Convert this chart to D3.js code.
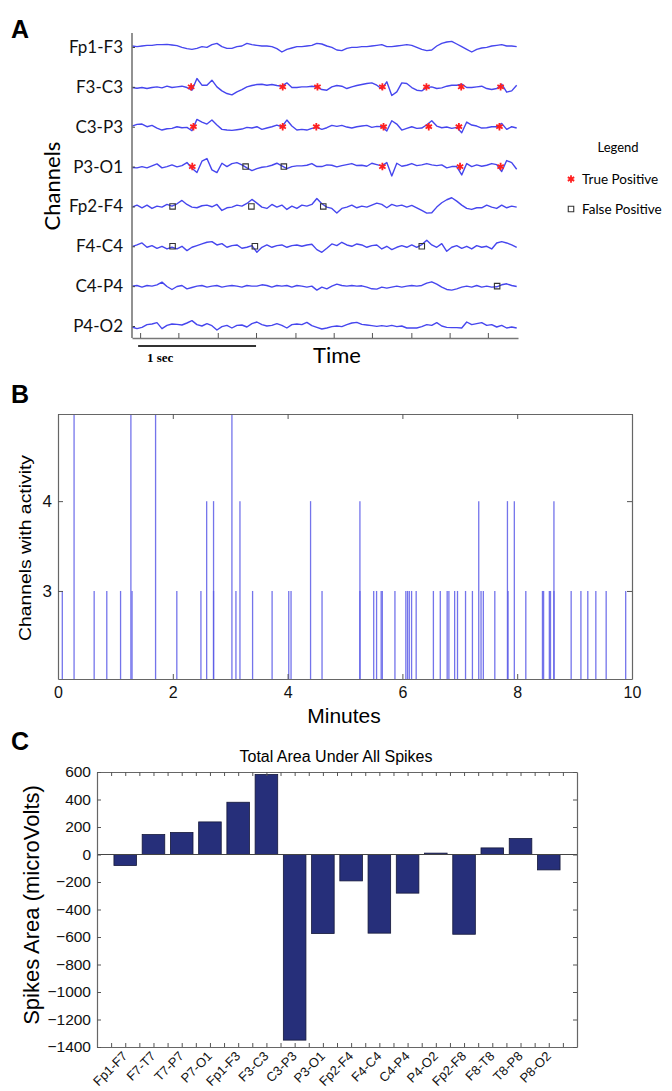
<!DOCTYPE html>
<html><head><meta charset="utf-8">
<script src="https://cdn.jsdelivr.net/npm/d3@7"></script>
<style>html,body{margin:0;padding:0;background:#fff;} svg{display:block;}</style>
</head><body><svg id="c" width="672" height="1091"></svg>
<script>
// ---------------- Panel A data ----------------
const channels = ["Fp1-F3","F3-C3","C3-P3","P3-O1","Fp2-F4","F4-C4","C4-P4","P4-O2"];
const sampleInterval = 0.0431; // seconds per sample
const traceFp1F3 = [3,1,3,5,5,7,7,8,6,4,-1,-5,-7,-4,1,-1,7,11,1,-4,-4,1,3,11,7,5,3,3,1,-5,-15,-7,-3,1,1,3,5,11,9,3,-1,-9,-11,-4,-1,-1,1,1,3,5,7,1,1,3,5,7,5,-1,-7,-11,-9,3,11,15,17,9,1,-7,-15,-7,-3,-1,3,5,7,3,3,1];
const traceF3C3 = [-2,-4,-2,-5,-2,0,-3,2,-2,0,2,-2,-10,25,5,5,20,0,-12,-20,-24,-15,-8,0,4,7,8,5,7,4,2,12,-2,-2,0,0,2,0,-8,-10,0,4,2,-5,0,4,7,10,12,5,-6,15,-26,-15,12,10,-2,-10,-12,-2,0,-5,-3,2,5,5,8,-2,-2,0,2,-5,-8,-5,8,-16,-12,5];
const traceC3P3 = [2,7,8,0,4,-4,-10,-6,-5,0,-3,-2,-12,22,14,8,20,5,-8,-10,-11,-9,-7,-2,-4,0,-8,-4,0,5,0,20,2,-10,-8,-10,-5,-2,-8,-3,4,1,4,-1,-4,0,2,4,-2,1,0,-13,18,8,-10,-5,0,-5,-4,6,18,2,-3,-1,-5,-2,-18,14,5,2,-4,-3,0,0,10,-8,0,-4];
const traceP3O1 = [-3,-4,0,-4,2,8,-4,0,5,-1,3,12,-5,-18,16,24,-10,-18,10,0,9,12,5,-4,-12,-6,-2,0,4,10,2,-6,0,2,2,4,9,0,0,5,4,-1,3,6,9,3,4,1,10,6,2,12,-28,10,1,4,9,3,5,9,5,3,5,-4,0,0,-25,9,0,5,1,4,9,6,-15,18,12,-8];
const traceFp2F4 = [-2,4,-4,4,-6,1,-2,6,1,8,18,6,-2,-4,2,4,-1,6,-12,-4,-2,4,1,9,21,10,-2,-6,6,-2,4,-9,1,-6,4,1,6,24,8,-2,-6,-20,-6,-2,4,-4,1,-2,4,10,6,-4,6,1,4,-2,3,-4,-12,-20,-19,-2,11,20,26,16,4,-6,-9,-4,-4,4,-2,-6,4,-4,1,-2];
const traceF4C4 = [-1,4,10,-3,2,-6,0,-8,-3,-8,0,-13,-3,2,7,12,14,4,8,-3,2,4,-6,-3,2,-18,-3,4,-3,2,4,-3,2,4,0,4,6,-10,-18,-6,7,2,12,4,0,7,4,-3,2,4,-8,0,-10,-3,2,-3,4,-3,5,18,4,-3,8,-15,-3,2,-6,0,-8,2,-3,0,-8,10,14,10,4,-3];
const traceC4P4 = [0,2,-3,2,0,4,12,-1,-10,-1,2,-8,-4,0,2,-3,0,2,-3,0,2,0,-3,2,0,0,4,2,-3,2,0,2,-3,2,0,-3,0,-12,-3,-8,0,6,2,0,2,0,1,-3,-8,-9,-3,-6,-3,0,-3,0,2,0,2,9,13,6,-3,-10,-12,-8,-3,0,-3,2,-3,0,-3,-2,4,7,2,-1];
const traceP4O2 = [-3,-8,-4,4,6,10,-8,2,6,5,3,9,16,4,0,7,1,-12,-2,2,-6,2,3,-3,7,12,4,0,2,7,2,-6,4,6,4,11,1,-4,-9,-6,-2,0,-2,4,9,11,5,3,1,-1,1,-1,2,-2,0,-6,-6,-6,-2,4,2,10,0,-4,-5,-5,-6,12,4,7,10,2,4,-3,2,-6,-3,-6];
// detection times (seconds)
const tpF3C3 = [0.51,1.30,1.60,2.16,2.54,2.84,3.18];
const tpC3P3 = [0.53,1.30,1.59,2.17,2.56,2.82,3.17];
const tpP3O1 = [0.52,2.16,2.83,3.18];
const fpP3O1 = [0.98,1.31];
const fpFp2F4 = [0.35,1.03,1.65];
const fpF4C4 = [0.35,1.06,2.50];
const fpC4P4 = [3.15];
const timeTicks = [0.07,0.40,0.74,1.07,1.41,1.74,2.07,2.41,2.74,3.07];

// ---------------- Panel B data ----------------
const eventMinutes = [0.28,1.27,1.70,3.03, 2.59,2.71,3.17,4.40,5.26,7.33,7.83,7.95,8.64,
  0.075,0.63,0.85,1.09,1.29,2.07,2.49,2.71,3.10,3.39,3.73,4.02,4.06,4.60,5.26,5.50,5.55,5.63,5.65,5.87,6.06,6.09,6.12,6.16,6.24,6.54,6.66,6.78,6.81,6.91,6.96,7.10,7.22,7.37,7.41,7.61,7.84,8.15,8.44,8.46,8.56,8.58,8.64,8.94,9.11,9.23,9.37,9.55,9.89];
const eventChannels = [5,5,5,5, 4,4,4,4,4,4,4,4,4,
  3,3,3,3,3,3,3,3,3,3,3,3,3,3,3,3,3,3,3,3,3,3,3,3,3,3,3,3,3,3,3,3,3,3,3,3,3,3,3,3,3,3,3,3,3,3,3,3,3];
const minuteTicks = [0,2,4,6,8,10];
const activityTicks = [3,4];

// ---------------- Panel C data ----------------
const montage = ["Fp1-F7","F7-T7","T7-P7","P7-O1","Fp1-F3","F3-C3","C3-P3","P3-O1","Fp2-F4","F4-C4","C4-P4","P4-O2","Fp2-F8","F8-T8","T8-P8","P8-O2"];
const spikeArea = [-80,145,160,237,380,582,-1350,-575,-192,-572,-281,10,-580,48,116,-112];
const areaTicks = [600,400,200,0,-200,-400,-600,-800,-1000,-1200,-1400];

// ================= drawing =================
const svg = d3.select("#c");
const SANS = "'Liberation Sans', Arial, sans-serif";
const HUM = "Lato, 'Open Sans', sans-serif";

function panelLetter(t, x, y){
  svg.append("text").attr("x",x).attr("y",y).text(t)
    .style("font-family",SANS).style("font-weight","bold").style("font-size","25px").attr("fill","#000");
}
panelLetter("A",11,38); panelLetter("B",11,403); panelLetter("C",11,750);

// ---------- Panel A ----------
const xA = d3.scaleLinear().domain([0,3.33]).range([132,518]);
const yA = d3.scalePoint().domain(channels).range([47,326]);
const amp = d3.scaleLinear().domain([-30,30]).range([10,-10]);
const traces = [traceFp1F3,traceF3C3,traceC3P3,traceP3O1,traceFp2F4,traceF4C4,traceC4P4,traceP4O2];
const gA = svg.append("g");
traces.forEach((tr,ci)=>{
  const base = yA(channels[ci]);
  const pts = tr.map(v=>({v, base}));
  gA.append("path").datum(pts).attr("fill","none").attr("stroke","#4646ee")
    .attr("stroke-width",1.4).attr("stroke-linejoin","round")
    .attr("d", d3.line().x((d,i)=>xA(i*sampleInterval)).y(d=>d.base+amp(d.v)));
});
// axes
const axL = gA.append("g").attr("transform","translate(132,0)")
  .call(d3.axisLeft(yA).tickSize(-3).tickPadding(9).tickSizeOuter(0));
axL.select(".domain").remove();
axL.selectAll(".tick line").attr("stroke","#444");
axL.selectAll("text").style("font-family",HUM).style("font-size","17px").attr("fill","#111");
gA.append("line").attr("x1",132).attr("x2",132).attr("y1",33).attr("y2",338).attr("stroke","#777").attr("stroke-width",1.6);
const axB = gA.append("g").attr("transform","translate(0,338)")
  .call(d3.axisBottom(xA).tickValues(timeTicks).tickSize(-5).tickFormat("").tickSizeOuter(0));
axB.select(".domain").attr("stroke","#777").attr("stroke-width",1.6);
axB.selectAll(".tick line").attr("stroke","#555");
// scale bar
gA.append("line").attr("x1",xA(timeTicks[0])-2).attr("x2",xA(timeTicks[3])).attr("y1",346).attr("y2",346)
  .attr("stroke","#333").attr("stroke-width",1.8);
gA.append("text").attr("x",147).attr("y",362).text("1 sec")
  .style("font-family","'Liberation Serif', 'Times New Roman', serif").style("font-weight","bold").style("font-size","13px");
gA.append("text").attr("x",337).attr("y",363).attr("text-anchor","middle").text("Time")
  .style("font-family",HUM).style("font-size","22px");
gA.append("text").attr("transform","translate(60,186) rotate(-90)").attr("text-anchor","middle").text("Channels")
  .style("font-family",HUM).style("font-size","22px");
// markers
const star = d3.symbol(d3.symbolAsterisk).size(38);
const sq = d3.symbol(d3.symbolSquare).size(30);
[["F3-C3",tpF3C3],["C3-P3",tpC3P3],["P3-O1",tpP3O1]].forEach(([ch,arr])=>{
  arr.forEach(t=>{
    gA.append("path").attr("d",star()).attr("transform",`translate(${xA(t)},${yA(ch)})`)
      .attr("stroke","#ff2020").attr("stroke-width",1.8).attr("fill","none");
  });
});
[["P3-O1",fpP3O1],["Fp2-F4",fpFp2F4],["F4-C4",fpF4C4],["C4-P4",fpC4P4]].forEach(([ch,arr])=>{
  arr.forEach(t=>{
    gA.append("path").attr("d",sq()).attr("transform",`translate(${xA(t)},${yA(ch)})`)
      .attr("stroke","#333").attr("stroke-width",1.1).attr("fill","none");
  });
});
// legend
gA.append("text").attr("x",618).attr("y",152).attr("text-anchor","middle").text("Legend")
  .style("font-family",HUM).style("font-size","13px");
gA.append("path").attr("d",star()).attr("transform","translate(571,179)").attr("stroke","#ff2020").attr("stroke-width",1.8).attr("fill","none");
gA.append("text").attr("x",582).attr("y",184).text("True Positive").style("font-family",HUM).style("font-size","13.5px");
gA.append("path").attr("d",sq()).attr("transform","translate(571,209)").attr("stroke","#333").attr("stroke-width",1.1).attr("fill","none");
gA.append("text").attr("x",582).attr("y",214).text("False Positive").style("font-family",HUM).style("font-size","13.5px");

// ---------- Panel B ----------
const xB = d3.scaleLinear().domain([0,10]).range([58,632]);
const yB = d3.scaleLinear().domain([2.02,4.97]).range([679,414]);
const gB = svg.append("g");
svg.append("defs").append("clipPath").attr("id","clipB").append("rect")
  .attr("x",58).attr("y",414).attr("width",574).attr("height",265);
const events = eventMinutes.map((m,i)=>({m, c:eventChannels[i]}));
gB.append("g").attr("clip-path","url(#clipB)").selectAll("line").data(events).join("line")
  .attr("x1",d=>xB(d.m)).attr("x2",d=>xB(d.m)).attr("y1",yB(2.02)).attr("y2",d=>yB(d.c))
  .attr("stroke","#5c5ce8").attr("stroke-opacity",0.85).attr("stroke-width",1.3);
function styleAxis(g, fs){
  g.select(".domain").attr("stroke","#666").attr("stroke-width",1.2);
  g.selectAll(".tick line").attr("stroke","#555");
  g.selectAll("text").style("font-family",SANS).style("font-size",fs).attr("fill","#111");
}
const intFmt = d3.format("d");
styleAxis(gB.append("g").attr("transform","translate(0,679)")
  .call(d3.axisBottom(xB).tickValues(minuteTicks).tickSize(-5).tickSizeOuter(0).tickPadding(8).tickFormat(intFmt)),"16px");
styleAxis(gB.append("g").attr("transform","translate(0,414)")
  .call(d3.axisTop(xB).tickValues(minuteTicks).tickSize(-5).tickSizeOuter(0).tickFormat("")),"16px");
styleAxis(gB.append("g").attr("transform","translate(58,0)")
  .call(d3.axisLeft(yB).tickValues(activityTicks).tickSize(-5).tickSizeOuter(0).tickPadding(6).tickFormat(intFmt)),"17px");
styleAxis(gB.append("g").attr("transform","translate(632,0)")
  .call(d3.axisRight(yB).tickValues(activityTicks).tickSize(-5).tickSizeOuter(0).tickFormat("")),"16px");
gB.append("text").attr("x",344).attr("y",723).attr("text-anchor","middle").text("Minutes")
  .style("font-family",SANS).style("font-size","21px");
gB.append("text").attr("transform","translate(31,548) rotate(-90)").attr("text-anchor","middle").text("Channels with activity")
  .style("font-family",SANS).style("font-size","17px").attr("textLength",186).attr("lengthAdjust","spacingAndGlyphs");

// ---------- Panel C ----------
const xC = d3.scaleLinear().domain([0,17]).range([97,577]);
const yC = d3.scaleLinear().domain([-1400,600]).range([1047,772]);
const gC = svg.append("g");
const bars = montage.map((m,i)=>({m, v:spikeArea[i], i:i+1}));
gC.selectAll("rect.bar").data(bars).join("rect").attr("class","bar")
  .attr("x",d=>xC(d.i-0.4)).attr("width",d=>xC(d.i+0.4)-xC(d.i-0.4))
  .attr("y",d=>yC(Math.max(0,d.v))).attr("height",d=>Math.abs(yC(d.v)-yC(0)))
  .attr("fill","#262f7a").attr("stroke","#15183a").attr("stroke-width",0.8);
gC.append("line").attr("x1",97).attr("x2",577).attr("y1",yC(0)).attr("y2",yC(0)).attr("stroke","#444").attr("stroke-width",1);
const halfTicks = d3.range(1,34).map(k=>k/2);
styleAxis(gC.append("g").attr("transform","translate(0,1047)")
  .call(d3.axisBottom(xC).tickValues(halfTicks).tickSize(-4).tickSizeOuter(0).tickFormat("")),"14px");
styleAxis(gC.append("g").attr("transform","translate(0,772)")
  .call(d3.axisTop(xC).tickValues(halfTicks).tickSize(-4).tickSizeOuter(0).tickFormat("")),"14px");
styleAxis(gC.append("g").attr("transform","translate(97,0)")
  .call(d3.axisLeft(yC).tickValues(areaTicks).tickSize(-4).tickSizeOuter(0).tickPadding(6).tickFormat(intFmt)),"15.5px");
styleAxis(gC.append("g").attr("transform","translate(577,0)")
  .call(d3.axisRight(yC).tickValues(areaTicks).tickSize(-4).tickSizeOuter(0).tickFormat("")),"15px");
gC.selectAll("text.xl").data(bars).join("text").attr("class","xl")
  .attr("transform",d=>`translate(${xC(d.i)+3},1057) rotate(-45)`).attr("text-anchor","end").text(d=>d.m)
  .style("font-family",SANS).style("font-size","13px").attr("fill","#111");
gC.append("text").attr("x",336).attr("y",762).attr("text-anchor","middle").text("Total Area Under All Spikes")
  .style("font-family",SANS).style("font-size","16px");
gC.append("text").attr("transform","translate(39,905) rotate(-90)").attr("text-anchor","middle").text("Spikes Area (microVolts)")
  .style("font-family",SANS).style("font-size","22px");
</script></body></html>
